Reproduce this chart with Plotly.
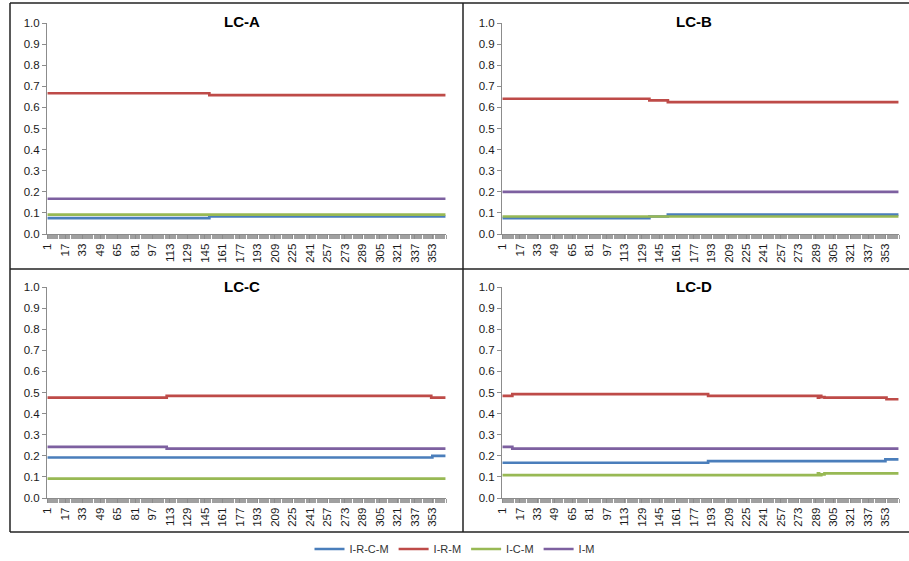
import plotly.graph_objects as go

W, H = 909, 561

series_names = ["I-R-C-M", "I-R-M", "I-C-M", "I-M"]
series_colors = ["#4A7EBB", "#BE4B48", "#98B954", "#7D60A0"]

tick_days = list(range(1, 366, 16))
tick_labels = [str(d) for d in tick_days]
y_ticks = [0.0, 0.1, 0.2, 0.3, 0.4, 0.5, 0.6, 0.7, 0.8, 0.9, 1.0]

panel_titles = ["LC-A", "LC-B", "LC-C", "LC-D"]

# step breakpoints (day, value)
A_irc_x = [1, 149, 365]
A_irc_y = [0.075, 0.083, 0.083]
A_ir_x = [1, 149, 365]
A_ir_y = [0.667, 0.658, 0.658]
A_ic_x = [1, 365]
A_ic_y = [0.092, 0.092]
A_i_x = [1, 365]
A_i_y = [0.167, 0.167]

B_irc_x = [1, 136, 153, 365]
B_irc_y = [0.075, 0.083, 0.092, 0.092]
B_ir_x = [1, 136, 153, 365]
B_ir_y = [0.641, 0.633, 0.625, 0.625]
B_ic_x = [1, 365]
B_ic_y = [0.083, 0.083]
B_i_x = [1, 365]
B_i_y = [0.200, 0.200]

C_irc_x = [1, 353, 365]
C_irc_y = [0.192, 0.200, 0.200]
C_ir_x = [1, 110, 352, 365]
C_ir_y = [0.476, 0.484, 0.476, 0.476]
C_ic_x = [1, 365]
C_ic_y = [0.092, 0.092]
C_i_x = [1, 110, 365]
C_i_y = [0.242, 0.234, 0.234]

D_irc_x = [1, 190, 353, 365]
D_irc_y = [0.167, 0.175, 0.183, 0.183]
D_ir_x = [1, 10, 190, 291, 292, 294, 297, 354, 365]
D_ir_y = [0.484, 0.492, 0.484, 0.476, 0.484, 0.478, 0.476, 0.468, 0.468]
D_ic_x = [1, 291, 292, 294, 297, 365]
D_ic_y = [0.108, 0.117, 0.108, 0.112, 0.117, 0.117]
D_i_x = [1, 10, 365]
D_i_y = [0.242, 0.234, 0.234]

panels = [
    [(A_irc_x, A_irc_y), (A_ir_x, A_ir_y), (A_ic_x, A_ic_y), (A_i_x, A_i_y)],
    [(B_irc_x, B_irc_y), (B_ir_x, B_ir_y), (B_ic_x, B_ic_y), (B_i_x, B_i_y)],
    [(C_irc_x, C_irc_y), (C_ir_x, C_ir_y), (C_ic_x, C_ic_y), (C_i_x, C_i_y)],
    [(D_irc_x, D_irc_y), (D_ir_x, D_ir_y), (D_ic_x, D_ic_y), (D_i_x, D_i_y)],
]

def px(x):
    return x / W

def py(y):
    return 1 - y / H

# pixel geometry of plot areas
x_doms = [(47, 446), (502, 899), (47, 446), (502, 899)]
y_doms = [(23, 234), (23, 234), (287, 498), (287, 498)]
title_pos = [(242, 21), (694, 21), (242, 286), (694, 286)]

fig = go.Figure()
font_fam = "Liberation Sans, Arial, sans-serif"
layout = dict(
    template="none",
    width=W, height=H,
    margin=dict(l=0, r=0, t=0, b=0, pad=0, autoexpand=False),
    paper_bgcolor="white", plot_bgcolor="white",
    font=dict(family=font_fam, size=10, color="#1a1a1a"),
    showlegend=True,
    legend=dict(orientation="h", x=0.5, xanchor="center", y=py(549), yanchor="middle",
                font=dict(size=11, color="#333"), itemwidth=30, tracegroupgap=0,
                bgcolor="rgba(0,0,0,0)"),
)

annotations = []
for i in range(4):
    xa = "x" if i == 0 else f"x{i+1}"
    ya = "y" if i == 0 else f"y{i+1}"
    for j in range(4):
        xs, ys = panels[i][j]
        fig.add_trace(go.Scatter(
            x=xs, y=ys, mode="lines", line=dict(color=series_colors[j], width=2.7, shape="hv"),
            name=series_names[j], legendgroup=series_names[j], showlegend=(i == 0),
            xaxis=xa, yaxis=ya))
    xk = "xaxis" if i == 0 else f"xaxis{i+1}"
    yk = "yaxis" if i == 0 else f"yaxis{i+1}"
    layout[xk] = dict(
        domain=[px(x_doms[i][0]), px(x_doms[i][1])], anchor=ya, automargin=False,
        range=[0.5, 365.5], tickmode="array", tickvals=tick_days, ticktext=tick_labels,
        tickangle=-90, ticks="outside", ticklen=4, tickcolor="#8c8c8c",
        minor=dict(tickmode="linear", tick0=0.5, dtick=1, ticks="outside", ticklen=4, tickcolor="#a0a0a0"),
        showline=True, linecolor="#8c8c8c", linewidth=1, showgrid=False, zeroline=False,
        tickfont=dict(size=11.5, color="#1a1a1a"), fixedrange=True)
    layout[yk] = dict(
        domain=[py(y_doms[i][1]), py(y_doms[i][0])], anchor=xa, automargin=False,
        range=[0, 1], tickmode="array", tickvals=y_ticks, tickformat=".1f",
        ticks="outside", ticklen=4, tickcolor="#8c8c8c",
        showline=True, linecolor="#8c8c8c", linewidth=1, showgrid=False, zeroline=False,
        tickfont=dict(size=11.5, color="#1a1a1a"), fixedrange=True)
    tx, ty = title_pos[i]
    annotations.append(dict(text=f"<b>{panel_titles[i]}</b>", x=px(tx), y=py(ty),
                            xref="paper", yref="paper", showarrow=False,
                            xanchor="center", yanchor="middle",
                            font=dict(size=15, family=font_fam, color="#000")))

shapes = []
bc = "#222"
for (x0, y0, x1, y1) in [(10, 3, 909, 3), (10, 3, 10, 532), (463, 3, 463, 532),
                         (10, 269, 909, 269), (10, 532, 909, 532)]:
    shapes.append(dict(type="line", xref="paper", yref="paper",
                       x0=px(x0), y0=py(y0), x1=px(x1), y1=py(y1),
                       line=dict(color=bc, width=1.5)))

layout["annotations"] = annotations
layout["shapes"] = shapes
fig.update_layout(**layout)
fig.write_html("out.html", config={"displayModeBar": False},
               post_script="document.body.style.margin='0';document.body.style.padding='0';document.documentElement.style.margin='0';")
